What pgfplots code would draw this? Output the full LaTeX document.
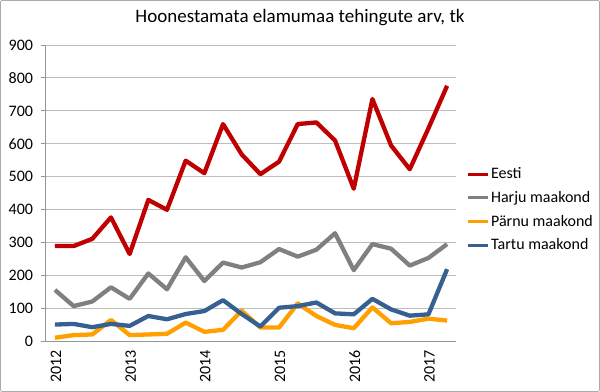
\documentclass[border=0pt]{standalone}
\usepackage{pgfplots}
\pgfplotsset{compat=1.18}
\usepackage{fontspec}
\setmainfont{Carlito}
\definecolor{cRed}{RGB}{192,0,0}
\definecolor{cGray}{RGB}{128,128,128}
\definecolor{cOrange}{RGB}{255,160,0}
\definecolor{cBlue}{RGB}{55,96,146}
\definecolor{cGrid}{RGB}{190,190,190}
\definecolor{cAxis}{RGB}{150,150,150}
\begin{document}
\begin{tikzpicture}
\draw[cAxis!80, line width=0.8pt, rounded corners=2pt] (0.5pt,0.5pt) rectangle (599.5pt,391.5pt);
\node[font=\fontsize{19}{22}\selectfont] at (300pt,374pt) {Hoonestamata elamumaa tehingute arv, tk};
\begin{axis}[
  at={(45.7pt,50.3pt)}, anchor=south west,
  width=410.7pt, height=296.7pt, scale only axis,
  xmin=-0.5, xmax=21.5, ymin=0, ymax=900,
  axis x line*=bottom, axis y line*=left,
  axis line style={cAxis, line width=0.8pt, -},
  ytick={0,100,...,900},
  ymajorgrids, grid style={cGrid, line width=0.8pt},
  tick align=outside, major tick length=5pt,
  tick style={cAxis, line width=0.8pt},
  xtick={0,4,8,12,16,20},
  xticklabels={2012,2013,2014,2015,2016,2017},
  xtick style={draw=none},
  extra x ticks={-0.5,0.5,...,21.5},
  extra x tick labels={},
  extra x tick style={grid=none, tick style={draw=cAxis, line width=0.8pt}},
  xticklabel style={rotate=90, anchor=east, font=\fontsize{16}{19}\selectfont, yshift=-1pt},
  yticklabel style={font=\fontsize{16}{19}\selectfont, xshift=-4pt},
  /pgf/number format/assume math mode=true,
  legend style={draw=none, fill=none, at={(1.023,0.445)}, anchor=west,
     font=\fontsize{16}{19}\selectfont, row sep=7pt, inner sep=0pt,
     legend cell align=left},
  legend image code/.code={\draw[#1, line width=3pt] (0pt,0pt) -- (20pt,0pt);},
  every axis plot/.append style={line width=4.3pt, line join=round},
  clip=false,
]
\addplot[cRed] coordinates {
(0,290)(1,290)(2,312)(3,377)(4,266)(5,430)(6,400)(7,549)(8,511)(9,660)(10,568)
(11,508)(12,546)(13,660)(14,665)(15,610)(16,464)(17,736)(18,595)(19,523)(20,647)(21,776)};
\addlegendentry{Eesti}
\addplot[cGray] coordinates {
(0,157)(1,108)(2,122)(3,165)(4,130)(5,207)(6,159)(7,256)(8,184)(9,240)(10,225)
(11,241)(12,281)(13,258)(14,279)(15,329)(16,217)(17,296)(18,282)(19,231)(20,254)(21,296)};
\addlegendentry{Harju maakond}
\addplot[cOrange] coordinates {
(0,12)(1,20)(2,22)(3,66)(4,20)(5,22)(6,24)(7,58)(8,30)(9,36)(10,94)
(11,43)(12,43)(13,116)(14,78)(15,51)(16,41)(17,104)(18,56)(19,60)(20,70)(21,64)};
\addlegendentry{Pärnu maakond}
\addplot[cBlue] coordinates {
(0,52)(1,54)(2,44)(3,54)(4,48)(5,78)(6,68)(7,84)(8,93)(9,126)(10,84)
(11,46)(12,103)(13,108)(14,119)(15,86)(16,83)(17,130)(18,98)(19,79)(20,83)(21,220)};
\addlegendentry{Tartu maakond}
\end{axis}
\end{tikzpicture}
\end{document}
